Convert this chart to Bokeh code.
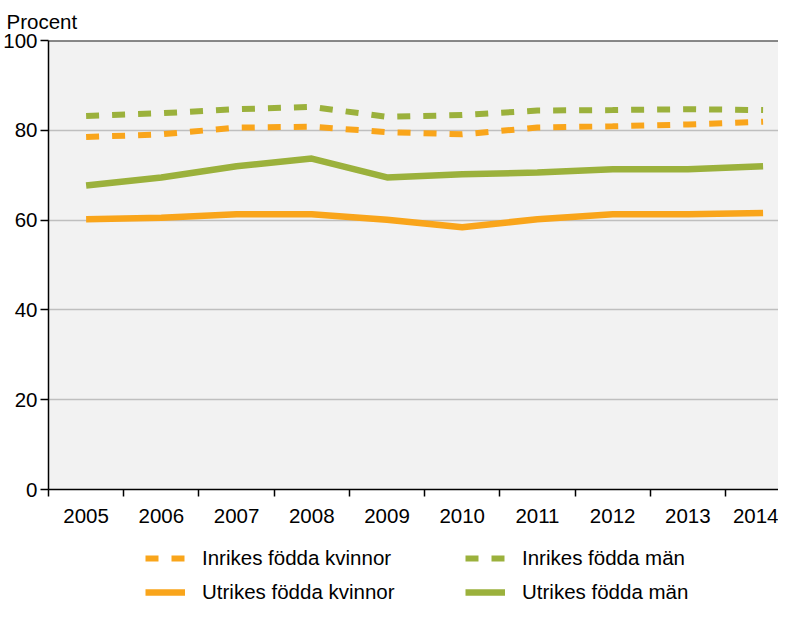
from bokeh.plotting import figure
from bokeh.layouts import column
from bokeh.models import (FixedTicker, Span, Legend, LegendItem, Range1d)
from bokeh.embed import file_html
from bokeh.resources import INLINE

years = ["2005", "2006", "2007", "2008", "2009", "2010", "2011", "2012", "2013", "2014"]
inrikes_kvinnor = [78.5, 79.1, 80.6, 80.8, 79.6, 79.1, 80.6, 80.9, 81.3, 81.9]
inrikes_man = [83.2, 83.8, 84.7, 85.2, 83.0, 83.4, 84.4, 84.5, 84.7, 84.5]
utrikes_kvinnor = [60.2, 60.5, 61.3, 61.3, 60.1, 58.4, 60.2, 61.3, 61.3, 61.6]
utrikes_man = [67.7, 69.5, 72.0, 73.7, 69.5, 70.2, 70.6, 71.3, 71.3, 72.0]
y_ticks = [0, 20, 40, 60, 80, 100]

ORANGE = "#F9A51B"
GREEN = "#9BB13C"
FONT = "Liberation Sans"
FS = "20.5px"

xs = [i + 0.5 for i in range(len(years))]

series = [
    ("Inrikes födda kvinnor", inrikes_kvinnor, ORANGE, "13 13", 6),
    ("Inrikes födda män", inrikes_man, GREEN, "13 13", 6),
    ("Utrikes födda kvinnor", utrikes_kvinnor, ORANGE, "solid", 6.5),
    ("Utrikes födda män", utrikes_man, GREEN, "solid", 6.5),
]

p = figure(width=778, height=528, output_backend="svg", toolbar_location=None,
           x_range=Range1d(0, 9.705), y_range=Range1d(0, 100),
           min_border_left=43, min_border_right=0, min_border_top=34, min_border_bottom=39,
           background_fill_color="#F2F2F2", border_fill_color="white",
           outline_line_color=None)

for name, vals, col, dash, w in series:
    p.line(xs, vals, line_color=col, line_width=w, line_dash=dash)

p.title.text = "Procent"
p.title.text_font = FONT
p.title.text_font_size = FS
p.title.text_font_style = "normal"
p.title.text_color = "black"
p.title.align = "left"
p.title.offset = -42
p.title.standoff = 15

p.xgrid.grid_line_color = None
p.ygrid.ticker = FixedTicker(ticks=y_ticks)
p.ygrid.grid_line_color = "#BFBFBF"
p.ygrid.grid_line_width = 1.5

p.yaxis.ticker = FixedTicker(ticks=y_ticks)
p.yaxis.axis_line_color = "black"
p.yaxis.axis_line_width = 1.5
p.yaxis.major_tick_line_color = "black"
p.yaxis.major_tick_line_width = 1.5
p.yaxis.major_tick_out = 8
p.yaxis.major_tick_in = 0
p.yaxis.minor_tick_line_color = None
p.yaxis.major_label_standoff = 3
p.yaxis.major_label_text_font = FONT
p.yaxis.major_label_text_font_size = FS
p.yaxis.major_label_text_color = "black"

p.xaxis.ticker = FixedTicker(ticks=xs, minor_ticks=list(range(len(years) + 1)))
p.xaxis.major_label_overrides = {x: y for x, y in zip(xs, years)}
p.xaxis.axis_line_color = "black"
p.xaxis.axis_line_width = 1.5
p.xaxis.major_tick_line_color = None
p.xaxis.major_tick_out = 0
p.xaxis.major_tick_in = 0
p.xaxis.minor_tick_line_color = "black"
p.xaxis.minor_tick_line_width = 1.5
p.xaxis.minor_tick_out = 7
p.xaxis.minor_tick_in = 0
p.xaxis.major_label_standoff = 12
p.xaxis.major_label_text_font = FONT
p.xaxis.major_label_text_font_size = FS
p.xaxis.major_label_text_color = "black"

p.add_layout(Span(location=100, dimension="width", line_color="#1a1a1a", line_width=2))

# legend strip (its lines lie outside its view; only the legend glyphs show)
p2 = figure(width=778, height=74, output_backend="svg", toolbar_location=None,
            x_range=Range1d(0, 10), y_range=Range1d(200, 300),
            x_axis_location=None, y_axis_location=None,
            min_border=0, outline_line_color=None,
            background_fill_color="white", border_fill_color="white")
p2.grid.visible = False
rs = {}
for name, vals, col, dash, w in series:
    rs[name] = p2.line(xs, vals, line_color=col, line_width=w, line_dash=dash)

common = dict(glyph_width=40, glyph_height=22, label_height=22, spacing=10,
              label_standoff=17, padding=0, margin=0, border_line_color=None,
              background_fill_alpha=0, label_text_font=FONT,
              label_text_font_size=FS, label_text_color="black")
leg1 = Legend(items=[LegendItem(label=n, renderers=[rs[n]]) for n in
                     ("Inrikes födda kvinnor", "Utrikes födda kvinnor")],
              location=(97, -2), **common)
leg2 = Legend(items=[LegendItem(label=n, renderers=[rs[n]]) for n in
                     ("Inrikes födda män", "Utrikes födda män")],
              location=(417, -2), **common)
p2.add_layout(leg1, "center")
p2.add_layout(leg2, "center")

layout = column(p, p2, spacing=0)
open("out.html", "w").write(file_html(layout, INLINE))
